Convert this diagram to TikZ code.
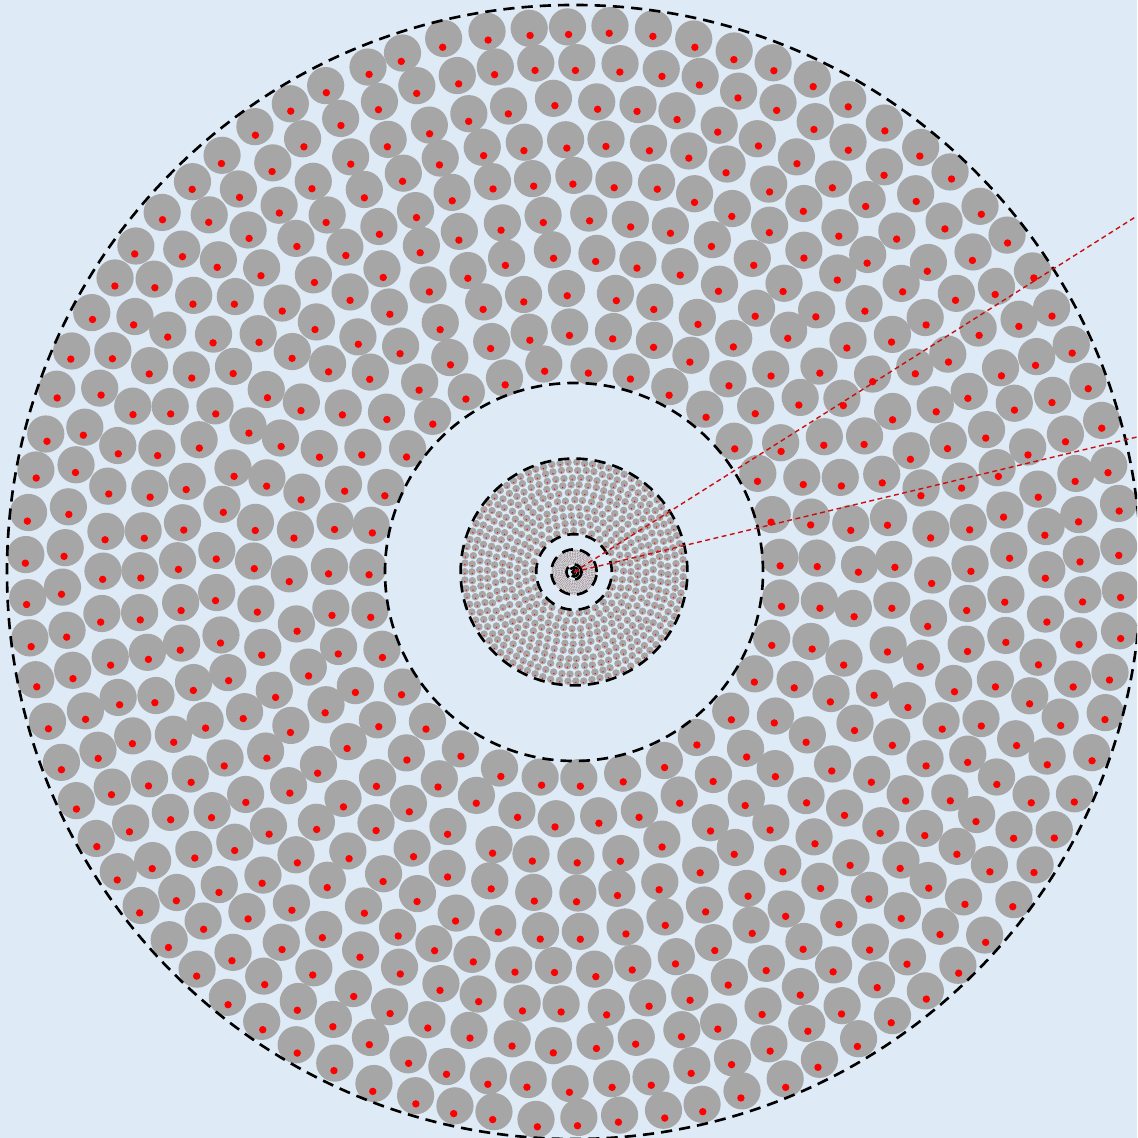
\documentclass[tikz,border=0pt]{standalone}
\usetikzlibrary{positioning}
\definecolor{bgblue}{RGB}{222,234,246}
\definecolor{diskgray}{RGB}{166,166,166}
\definecolor{rayred}{RGB}{200,16,16}

\begin{document}
\begin{tikzpicture}[
        disk/.style={fill=diskgray},
        core/.style={fill=red},
        shellline/.style={draw=black, line width=0.75pt, dash pattern=on 3.2pt off 2pt},
        ray/.style={draw=rayred, line width=0.4pt, dash pattern=on 1.4pt off 1pt},
    ]
        \pgfmathsetseed{2024}
        \useasboundingbox[fill=bgblue] (-5.74,-5.66) rectangle (5.63,5.72);
        \clip (-5.74,-5.66) rectangle (5.63,5.72);
        \coordinate (o) at (0,0);
        \coordinate (far1) at (5.63,3.56);
        \coordinate (far2) at (5.63,1.35);

        % the same shell, again and again, each time 5 times smaller
        \foreach \s in {1,0.2,0.04} {
            \foreach \k in {0,...,9} {
                \pgfmathsetmacro{\ringr}{2.08+0.377*\k}
                \pgfmathtruncatemacro{\cnt}{floor(2*3.14159*\ringr/0.40)-random(1,4)}
                \pgfmathsetmacro{\ph}{360*rnd}
                \pgfmathsetmacro{\slack}{360/\cnt-0.37/\ringr*57.2958}
                \foreach \i in {1,...,\cnt} {
                    \pgfmathsetmacro{\ang}{\ph+\i/\cnt*360+0.5*\slack*rand}
                    \pgfmathsetmacro{\rr}{\s*(\ringr+0.024*rand)}
                    \pgfmathsetmacro{\px}{\rr*cos(\ang)}
                    \pgfmathsetmacro{\py}{\rr*sin(\ang)}
                    \pgfmathsetmacro{\qx}{\px+\s*0.015*rand}
                    \pgfmathsetmacro{\qy}{\py+\s*(-0.078+0.01*rand)}
                    \fill[disk] (\px,\py) circle [radius=0.186*\s];
                    \fill[core] (\qx,\qy) circle [radius=0.037*\s];
                }
            }
        }

        \foreach \s in {1,0.2,0.04,0.008} {
            \draw[shellline] (o) circle [radius=5.67*\s];
            \draw[shellline] (o) circle [radius=1.89*\s];
        }

        \draw[ray] (o) -- (far1);
        \draw[ray] (o) -- (far2);
    \end{tikzpicture}
\end{document}
